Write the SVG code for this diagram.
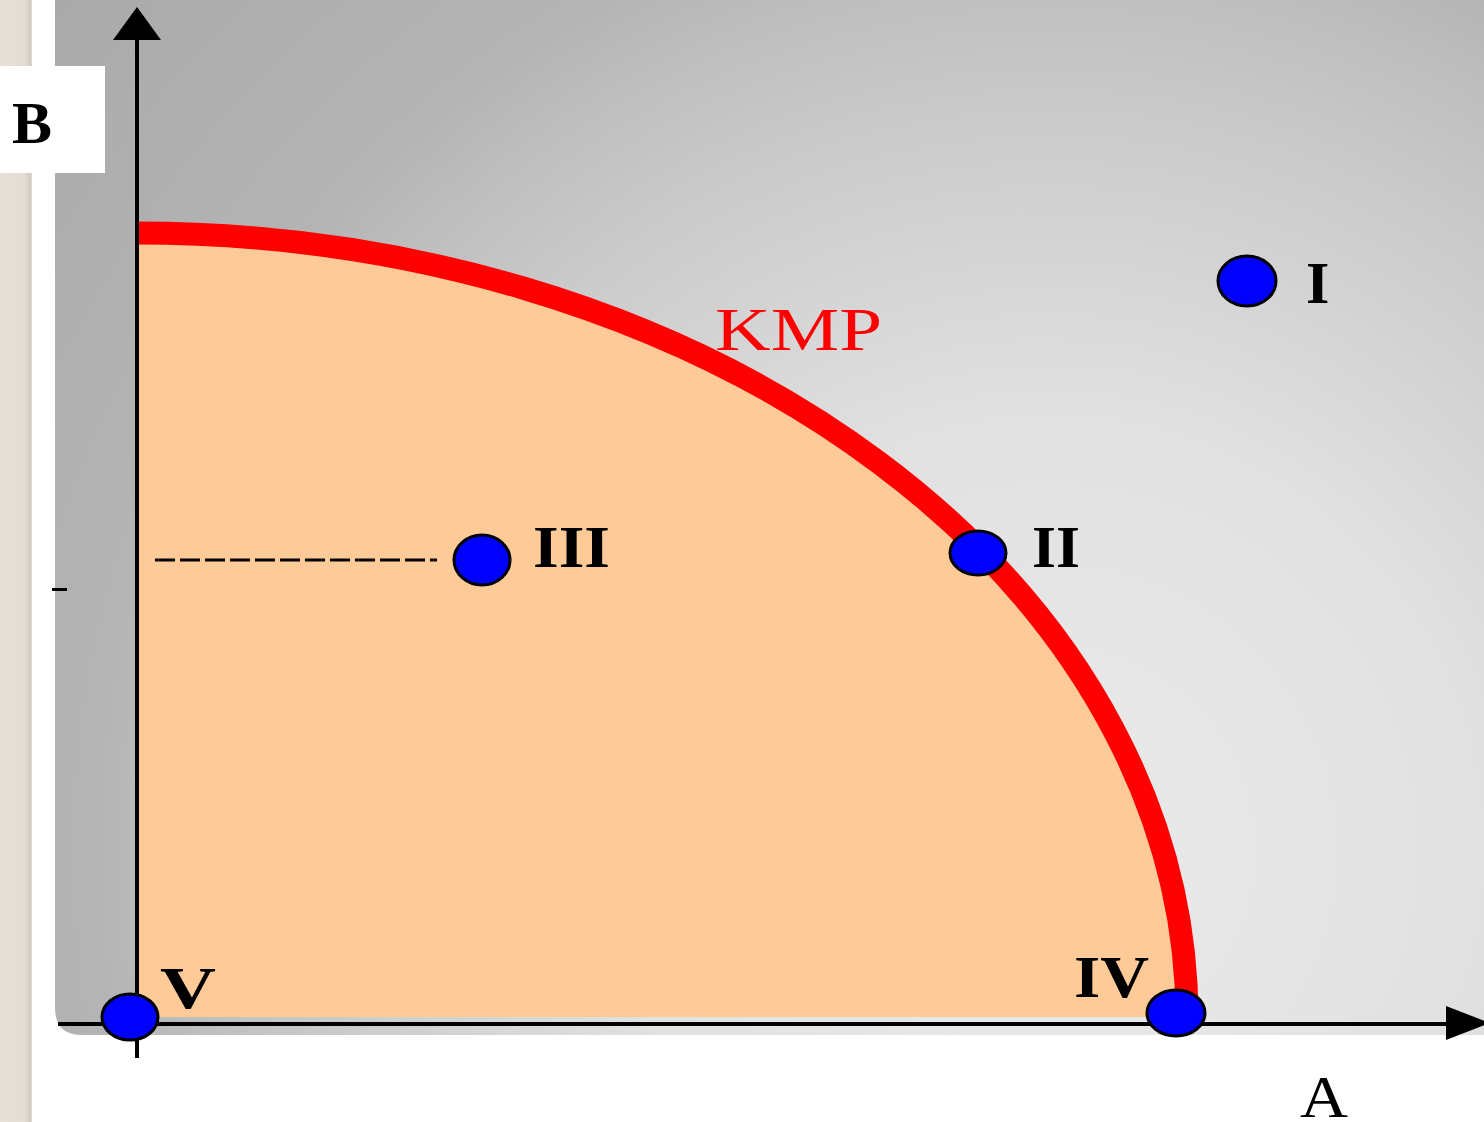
<svg xmlns="http://www.w3.org/2000/svg" width="1484" height="1122" viewBox="0 0 1484 1122">
  <defs>
    <radialGradient id="bg" gradientUnits="userSpaceOnUse" cx="1050" cy="850" r="1300">
      <stop offset="0" stop-color="#ebebeb"/>
      <stop offset="0.33" stop-color="#e1e1e1"/>
      <stop offset="0.57" stop-color="#cacaca"/>
      <stop offset="0.67" stop-color="#bebebe"/>
      <stop offset="0.74" stop-color="#b4b4b4"/>
      <stop offset="1" stop-color="#aaaaaa"/>
    </radialGradient>
    <linearGradient id="strip" x1="0" y1="0" x2="1" y2="0">
      <stop offset="0" stop-color="#e6e0d6"/>
      <stop offset="0.8" stop-color="#e3ddd3"/>
      <stop offset="1" stop-color="#cfc9bf"/>
    </linearGradient>
  </defs>
  <style>
    .pt { fill: #0000ff; stroke: #000000; stroke-width: 3; }
    .lbl { font-family: "Liberation Serif", "Times New Roman", serif; font-weight: bold; font-size: 60px; fill: #000000; }
    .axis { stroke: #000000; stroke-width: 4; fill: none; }
  </style>

  <!-- background -->
  <rect x="0" y="0" width="1484" height="1122" fill="#ffffff"/>
  <rect x="0" y="0" width="31" height="1122" fill="url(#strip)"/>
  <line x1="31.5" y1="0" x2="31.5" y2="1122" stroke="#d8d8d8" stroke-width="1"/>
  <path d="M55 0 H1484 V1035 H82 Q55 1035 55 1008 Z" fill="url(#bg)"/>

  <!-- B label box -->
  <g id="label-B">
    <rect x="0" y="66" width="105" height="107" fill="#ffffff"/>
    <text class="lbl" x="12" y="143">B</text>
  </g>

  <!-- feasible region -->
  <g id="region">
    <path d="M137 233 A1050 785 0 0 1 1187 1018 L1187 1017 L139 1017 L139 233 Z" fill="#fecb98"/>
  </g>

  <!-- KMP curve -->
  <g id="kmp">
    <path d="M137 233 A1050 785 0 0 1 1187 1018" fill="none" stroke="#ff0000" stroke-width="23"/>
    <text x="715" y="350" font-family="Liberation Serif, Times New Roman, serif" font-size="62" fill="#ff0000" textLength="167" lengthAdjust="spacingAndGlyphs">KMP</text>
  </g>

  <!-- axes and connectors -->
  <g id="connectors">
    <line class="axis" x1="137" y1="36" x2="137" y2="1058"/>
    <polygon points="137,7 161,40 113,40" fill="#000000"/>
    <line class="axis" x1="58" y1="1024" x2="1450" y2="1024"/>
    <polygon points="1446,1006 1490,1023 1446,1040" fill="#000000"/>
    <line x1="155" y1="560" x2="437" y2="560" stroke="#000000" stroke-width="3" stroke-dasharray="20 5"/>
    <line x1="52" y1="589.5" x2="67" y2="589.5" stroke="#000000" stroke-width="3"/>
  </g>

  <!-- points -->
  <g id="point-I">
    <ellipse class="pt" cx="1247" cy="281" rx="29" ry="25"/>
    <text class="lbl" x="1306" y="303">I</text>
  </g>
  <g id="point-II">
    <ellipse class="pt" cx="978" cy="553" rx="28" ry="22"/>
    <text class="lbl" x="1032" y="567" textLength="48" lengthAdjust="spacingAndGlyphs">II</text>
  </g>
  <g id="point-III">
    <ellipse class="pt" cx="482" cy="560" rx="28" ry="25"/>
    <text class="lbl" x="533" y="567" textLength="77" lengthAdjust="spacingAndGlyphs">III</text>
  </g>
  <g id="point-IV">
    <ellipse class="pt" cx="1176" cy="1013" rx="29" ry="23"/>
    <text class="lbl" x="1074" y="997" textLength="75" lengthAdjust="spacingAndGlyphs">IV</text>
  </g>
  <g id="point-V">
    <ellipse class="pt" cx="130" cy="1017" rx="28" ry="23"/>
    <text class="lbl" x="160" y="1008" textLength="56" lengthAdjust="spacingAndGlyphs">V</text>
  </g>

  <!-- axis label A -->
  <g id="label-A">
    <text x="1300" y="1117" font-family="Liberation Serif, Times New Roman, serif" font-size="60" fill="#000000" textLength="48" lengthAdjust="spacingAndGlyphs">A</text>
  </g>
</svg>
